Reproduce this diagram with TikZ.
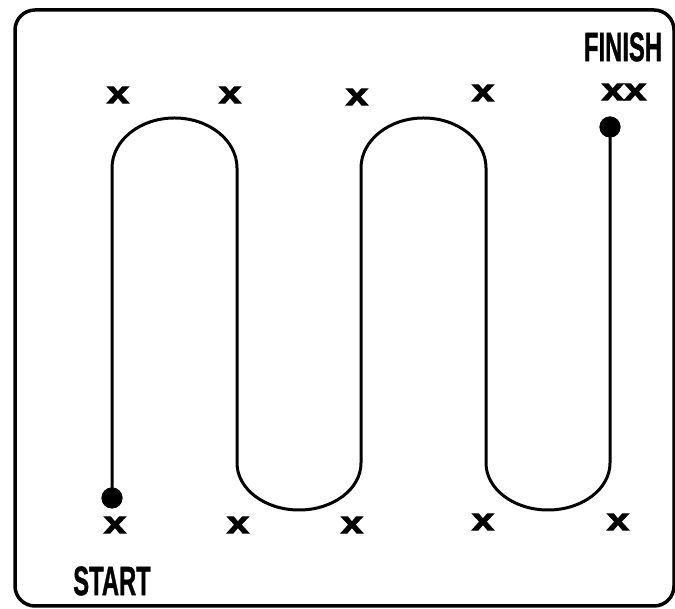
\documentclass[tikz,border=0pt]{standalone}
\usepackage{fontspec}
\setmainfont{Liberation Sans}
\newfontfamily\heavyfont[FakeBold=3]{Liberation Sans Bold}
\newfontfamily\labelfont[FakeBold=1.2]{Liberation Sans Bold}
\begin{document}
\begin{tikzpicture}[x=1pt,y=1pt,
  dotnode/.style={circle,fill=black,inner sep=0pt,minimum size=21pt},
  xmark/.style={inner sep=0pt,font=\fontsize{31}{31}\heavyfont},
  lbl/.style={inner sep=0pt,font=\fontsize{41}{41}\labelfont},
  track/.style={line width=3pt,line join=round}]
\useasboundingbox (0,0) rectangle (675,609);
% frame
\draw[line width=3.5pt,rounded corners=20pt] (15,3) rectangle (674,599);
% dots
\node[dotnode] (start) at (112,111) {};
\node[dotnode] (finish) at (610,482) {};
% track
\draw[track] (start.center) -- (112,441)
  arc[start angle=180,end angle=0,x radius=62.5,y radius=50] -- (237,146)
  arc[start angle=180,end angle=360,x radius=62,y radius=47] -- (361,441)
  arc[start angle=180,end angle=0,x radius=62.5,y radius=50] -- (486,146)
  arc[start angle=180,end angle=360,x radius=62,y radius=47] -- (finish.center);
\node[dotnode] at (start) {};
\node[dotnode] at (finish) {};
% x marks top
\node[xmark] (t1) at (118,514) {\scalebox{1.3}[1]{x}};
\node[xmark] (t2) at (230,514) {\scalebox{1.3}[1]{x}};
\node[xmark] (t3) at (357,512) {\scalebox{1.3}[1]{x}};
\node[xmark] (t4) at (483,516) {\scalebox{1.3}[1]{x}};
\node[xmark] (t5) at (624,517) {\scalebox{1.3}[1]{xx}};
% x marks bottom
\node[xmark] (b1) at (115,84) {\scalebox{1.3}[1]{x}};
\node[xmark] (b2) at (238,84) {\scalebox{1.3}[1]{x}};
\node[xmark] (b3) at (352,84) {\scalebox{1.3}[1]{x}};
\node[xmark] (b4) at (483,87) {\scalebox{1.3}[1]{x}};
\node[xmark] (b5) at (618,87) {\scalebox{1.3}[1]{x}};
% labels
\node[lbl] (fin) at (623,562) {\scalebox{0.58}[1]{FINISH}};
\node[lbl] (st) at (112,28) {\scalebox{0.58}[1]{START}};
\end{tikzpicture}
\end{document}
